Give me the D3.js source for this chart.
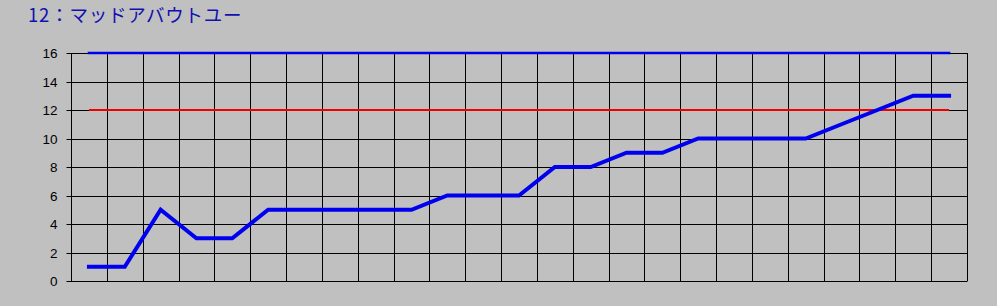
<!DOCTYPE html>
<html>
<head>
<meta charset="utf-8">
<script src="https://cdn.jsdelivr.net/npm/d3@7"></script>
<style>
  html, body { margin: 0; padding: 0; background: #c0c0c0; }
  svg { display: block; }
</style>
</head>
<body>
<div id="chart"></div>
<script>
const titleText = '12：マッドアバウトユー'
const weeks = d3.range(1, 26)
const ranks = [1, 1, 5, 3, 3, 5, 5, 5, 5, 5, 6, 6, 6, 8, 8, 9, 9, 10, 10, 10, 10, 11, 12, 13, 13]
const topLine = 16
const redLine = 12
const yTicks = [0, 2, 4, 6, 8, 10, 12, 14, 16]

const width = 997
const height = 306
const margin = { top: 53, right: 30, bottom: 25, left: 71 }

const svg = d3.select('#chart').append('svg')
  .attr('width', width)
  .attr('height', height)

svg.append('text')
  .attr('x', 28)
  .attr('y', 22)
  .attr('fill', '#1010b0')
  .style('font-family', '"Noto Sans CJK JP", sans-serif')
  .style('font-size', '18.5px')
  .style('letter-spacing', '0.8px')
  .text(titleText)

const scaleX = d3.scaleBand()
  .domain(weeks)
  .range([margin.left, width - margin.right])

const scaleY = d3.scaleLinear()
  .domain([0, 16])
  .range([height - margin.bottom, margin.top])

const g = svg.append('g')

// vertical grid
g.selectAll('.vgrid')
  .data(weeks.concat([null]))
  .enter().append('line')
  .attr('class', 'vgrid')
  .attr('x1', (d, i) => Math.round(margin.left + i * scaleX.bandwidth()) + 0.5)
  .attr('x2', (d, i) => Math.round(margin.left + i * scaleX.bandwidth()) + 0.5)
  .attr('y1', scaleY(16))
  .attr('y2', scaleY(0))
  .attr('stroke', '#000')

// horizontal grid + ticks
const axisY = d3.axisLeft(scaleY)
  .tickValues(yTicks)
  .tickSize(-(width - margin.right - margin.left))
  .tickPadding(14)

const yAxis = svg.append('g')
  .attr('transform', `translate(${margin.left + 0.5},0)`)
  .call(axisY)

yAxis.select('.domain').remove()
yAxis.selectAll('.tick line')
  .attr('x1', -5)
  .attr('stroke', '#000')
yAxis.selectAll('.tick')
  .attr('transform', d => `translate(0,${Math.round(scaleY(d)) + 0.5})`)
yAxis.selectAll('.tick text')
  .attr('fill', '#000')
  .attr('dy', '0.35em')
  .style('font-family', '"Liberation Sans", Arial, sans-serif')
  .style('font-size', '13.5px')

const cx = d => scaleX(d) + scaleX.bandwidth() / 2

const flat = v => d3.line()
  .x(d => cx(d))
  .y(() => scaleY(v))

svg.append('path')
  .datum(weeks)
  .attr('d', flat(topLine))
  .attr('fill', 'none')
  .attr('stroke', '#0000f0')
  .attr('stroke-width', 2.5)
  .attr('stroke-linecap', 'square')

svg.append('path')
  .datum(weeks)
  .attr('d', flat(redLine))
  .attr('fill', 'none')
  .attr('stroke', '#f00000')
  .attr('stroke-width', 2)

const line = d3.line()
  .x((d, i) => cx(weeks[i]))
  .y(d => scaleY(d))

svg.append('path')
  .datum(ranks)
  .attr('d', line)
  .attr('fill', 'none')
  .attr('stroke', '#0000ee')
  .attr('stroke-width', 4)
  .attr('stroke-linecap', 'square')
</script>
</body>
</html>
